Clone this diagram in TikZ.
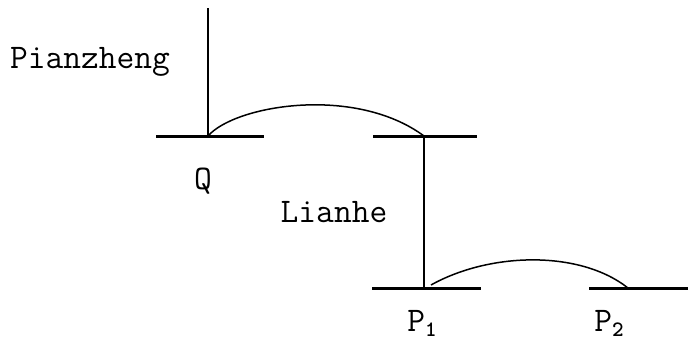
\documentclass[tikz,border=0pt]{standalone}
\usepackage{fontspec}
\begin{document}
\begin{tikzpicture}[x=1pt,y=-1pt,
  bar/.style={line width=3pt},
  stem/.style={line width=2.6pt},
  arcline/.style={line width=1.5pt},
  lbl/.style={font=\ttfamily\fontsize{34.5}{36}\selectfont, inner sep=0pt},
  subs/.style={font=\ttfamily\fontsize{22}{24}\selectfont}]
\useasboundingbox (0,0) rectangle (688,341);
% bars
\coordinate (qL) at (156,136); \coordinate (qR) at (264,136);
\coordinate (mL) at (373,136); \coordinate (mR) at (477,136);
\coordinate (pL) at (372,288); \coordinate (pR) at (481,288);
\coordinate (sL) at (589,288); \coordinate (sR) at (688,288);
\coordinate (top) at (208,8);
\coordinate (q) at (208,136);
\coordinate (m) at (424,136);
\coordinate (p) at (424,288);
\coordinate (pa) at (431,285);
\coordinate (s) at (628,288);
\draw[bar] (qL) -- (qR);
\draw[bar] (mL) -- (mR);
\draw[bar] (pL) -- (pR);
\draw[bar] (sL) -- (sR);
\draw[stem] (top) -- (q);
\draw[stem] (m) -- (p);
\draw[arcline] (q) .. controls (235,105) and (355,85) .. (m);
\draw[arcline] (pa) .. controls (490,252) and (580,250) .. (s);
\node[lbl] (pz) at (90,62) {Pianzheng};
\node[lbl] (lh) at (334,212) {Lianhe};
\node[lbl] (Q) at (203,181) {Q};
\node[lbl] (P1) at (422,323) {P\raisebox{-5pt}{\fontsize{22}{24}\selectfont\bfseries 1}};
\node[lbl] (P2) at (609,323) {P\raisebox{-5pt}{\fontsize{22}{24}\selectfont\bfseries 2}};
\end{tikzpicture}
\end{document}
